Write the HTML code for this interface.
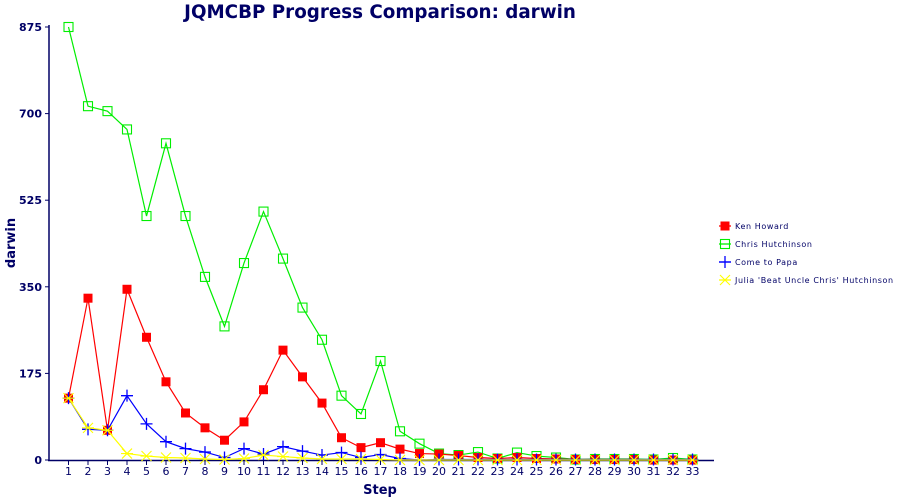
<!DOCTYPE html>
<html><head><meta charset="utf-8"><style>
html,body{margin:0;padding:0;background:#fff;width:900px;height:500px;overflow:hidden}
svg{display:block;font-family:"DejaVu Sans","Liberation Sans",sans-serif}
</style></head><body>
<svg id="chart" width="900" height="500" xmlns="http://www.w3.org/2000/svg">
<text x="380" y="18" text-anchor="middle" font-size="18.3" font-weight="bold" fill="#000066">JQMCBP Progress Comparison: darwin</text>
<text transform="translate(15,243) rotate(-90)" text-anchor="middle" font-size="13" font-weight="bold" fill="#000066">darwin</text>
<text x="380" y="494" text-anchor="middle" font-size="13" font-weight="bold" fill="#000066">Step</text>
<g id="axes"></g>
<g id="series"></g>
<g id="legend"></g>
</svg>
<script>
const steps = [1,2,3,4,5,6,7,8,9,10,11,12,13,14,15,16,17,18,19,20,21,22,23,24,25,26,27,28,29,30,31,32,33];
const yTicks = [0,175,350,525,700,875];
const seriesNames = ["Ken Howard","Chris Hutchinson","Come to Papa","Julia 'Beat Uncle Chris' Hutchinson"];
const kenHoward = [125,327,60,345,248,158,95,65,40,77,142,222,168,115,45,25,35,22,13,12,9,5,3,5,3,2,1,1,1,1,0,0,0];
const chrisHutchinson = [875,715,705,668,493,640,493,370,270,398,502,407,308,243,130,93,200,58,33,13,10,16,3,15,8,5,1,2,2,2,1,4,1];
const comeToPapa = [125,62,60,130,73,37,23,16,5,23,12,27,18,10,15,5,11,3,0,1,1,1,1,1,1,1,1,1,1,1,1,1,1];
const julia = [125,65,60,13,8,5,4,2,1,3,10,7,4,2,2,2,1,0,0,0,0,0,0,0,0,0,0,0,0,0,0,0,0];
const colors = ["#ff0000","#00ee00","#0000ff","#ffff00"];
const NS="http://www.w3.org/2000/svg";
function xS(s){return 68.5+(s-1)*19.5;}
function yS(v){return 460-v*(433/875);}
function mk(tag,attrs,parent){const e=document.createElementNS(NS,tag);for(const k in attrs)e.setAttribute(k,attrs[k]);parent.appendChild(e);return e;}
const axes=document.getElementById('axes');
let e=mk('line',{x1:49,y1:25,x2:49,y2:461,stroke:'#000066','stroke-width':1.5},axes);


e=mk('line',{x1:48,y1:460.5,x2:714,y2:460.5,stroke:'#000066','stroke-width':1.5},axes);


yTicks.forEach(t=>{
  mk('line',{x1:45,y1:yS(t),x2:49,y2:yS(t),stroke:'#000066'},axes);
  const tx=mk('text',{x:42,y:yS(t)+4,'text-anchor':'end','font-size':11,'font-weight':'bold',fill:'#000066'},axes);
  tx.textContent=t;
  
  
});
steps.forEach(s=>{
  mk('line',{x1:xS(s),y1:460,x2:xS(s),y2:465,stroke:'#000066'},axes);
  const tx=mk('text',{x:xS(s),y:475,'text-anchor':'middle','font-size':11,fill:'#000066'},axes);
  tx.textContent=s;
  
  
});
function marker(kind,x,y,c,g){
  if(kind===0) return mk('rect',{x:x-4.5,y:y-4.5,width:9,height:9,fill:c},g);
  if(kind===1) return mk('rect',{x:x-4.5,y:y-4.5,width:9,height:9,fill:'none',stroke:c,'stroke-width':1.1},g);
  if(kind===2) return mk('path',{d:`M${x-6} ${y}H${x+6}M${x} ${y-6}V${y+6}`,stroke:c,'stroke-width':1.3},g);
  return mk('path',{d:`M${x-5} ${y-5}L${x+5} ${y+5}M${x-5} ${y+5}L${x+5} ${y-5}M${x-6} ${y}H${x+6}`,stroke:c,'stroke-width':1.1},g);
}
const data=[kenHoward,chrisHutchinson,comeToPapa,julia];
const order=[1,0,2,3];
const sg=document.getElementById('series');
order.forEach(i=>{
  const g=mk('g',{},sg);
  
  
  const pts=data[i].map((v,k)=>xS(steps[k])+','+yS(v)).join(' ');
  const pl=mk('polyline',{points:pts,fill:'none',stroke:colors[i],'stroke-width':1.2},g);
  
  
  data[i].forEach((v,k)=>{
    const m=marker(i,xS(steps[k]),yS(v),colors[i],g);
    
    
  });
});
const lg=document.getElementById('legend');
seriesNames.forEach((n,i)=>{
  const y=226+i*18;
  const g=mk('g',{},lg);
  
  
  mk('line',{x1:719,y1:y,x2:731,y2:y,stroke:colors[i],'stroke-width':1.3},g);
  marker(i,725,y,colors[i],g);
  const t=mk('text',{x:735,y:y+3,'font-size':8,fill:'#000066','letter-spacing':'0.6'},g);
  t.textContent=n;
});
</script>
</body></html>
